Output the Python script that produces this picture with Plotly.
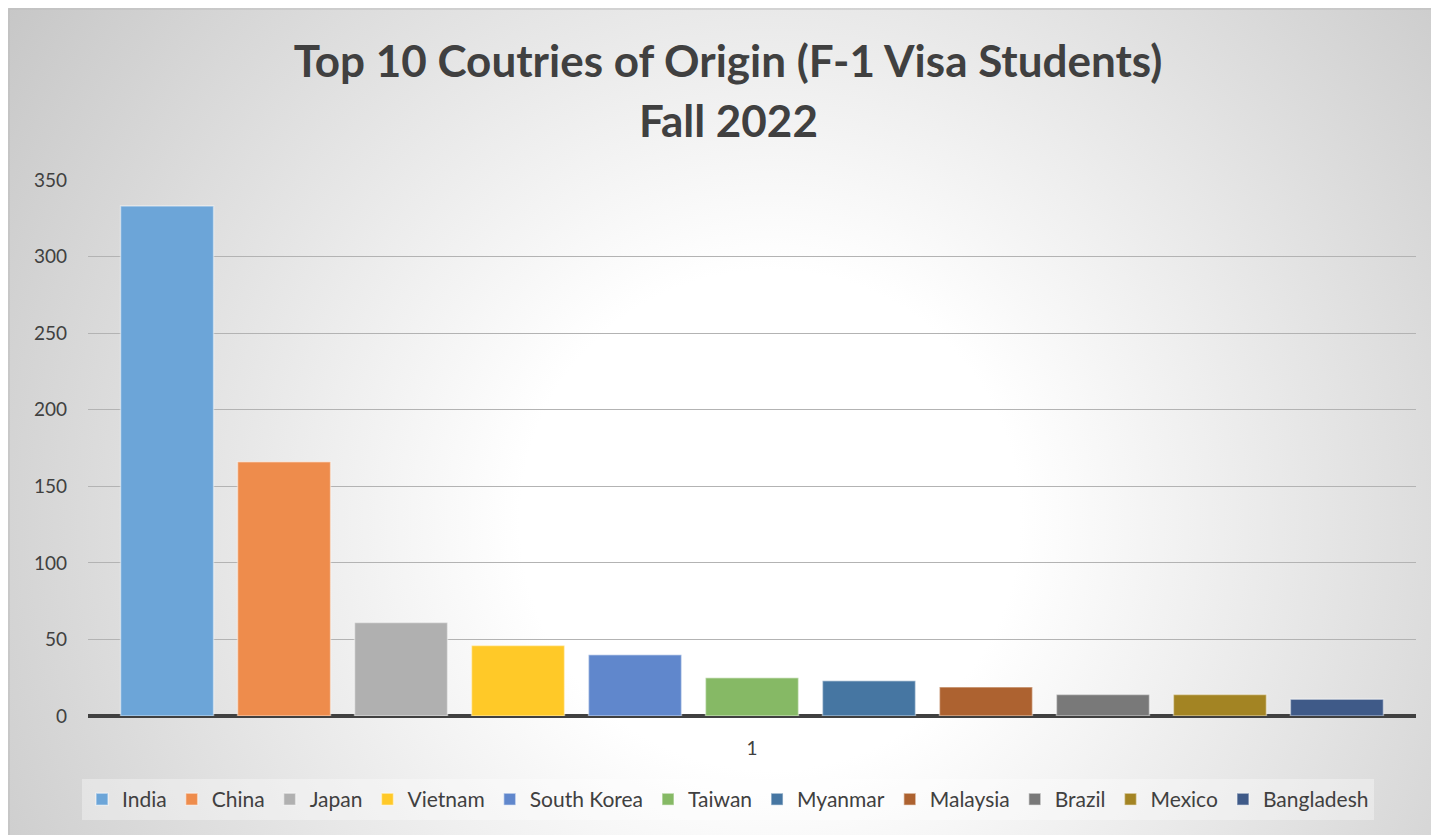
import base64
import plotly.graph_objects as go

# ---- data ----
countries = ["India", "China", "Japan", "Vietnam", "South Korea", "Taiwan",
             "Myanmar", "Malaysia", "Brazil", "Mexico", "Bangladesh"]
students = [333, 166, 61, 46, 40, 25, 23, 19, 14, 14, 11]
category = ["1"]
colors = ["#6CA5D8", "#EE8C4C", "#B0B0B0", "#FFC928", "#6087CC", "#86B965",
          "#4676A2", "#AD6230", "#797979", "#A38423", "#3F5A88"]
title_line1 = "Top 10 Coutries of Origin (F-1 Visa Students)"
title_line2 = "Fall 2022"

# ---- geometry (page coords; body margin removed, white band drawn in figure) ----
W, H = 1431, 835
L, T = 88, 180
plot_bottom, plot_right = 716, 1416
R = W - plot_right
B = H - plot_bottom
pw, ph = plot_right - L, plot_bottom - T
CH0 = 8  # chart area starts here (white band before it)

def px(x):
    return (x - L) / pw

def py(y):
    return (plot_bottom - y) / ph

fig = go.Figure()
for name, val, col in zip(countries, students, colors):
    fig.add_trace(go.Bar(
        x=category, y=[val], name=name,
        marker=dict(color=col, line=dict(color="rgba(255,255,255,0.45)", width=1.5)),
    ))

# radial gradient background (Excel style)
gw, gh = W - CH0, H - CH0
cx, cy = 770 - CH0, 520 - CH0
svg = f'''<svg xmlns="http://www.w3.org/2000/svg" width="{gw}" height="{gh}" viewBox="0 0 {gw} {gh}" preserveAspectRatio="none">
<defs><radialGradient id="g" gradientUnits="userSpaceOnUse" cx="{cx}" cy="{cy}" r="1000">
<stop offset="0" stop-color="#ffffff"/><stop offset="0.25" stop-color="#ffffff"/>
<stop offset="1" stop-color="#c0c0c0"/></radialGradient></defs>
<rect x="0" y="0" width="{gw}" height="{gh}" fill="url(#g)"/></svg>'''
src = "data:image/svg+xml;base64," + base64.b64encode(svg.encode()).decode()

fig.add_layout_image(dict(
    source=src, xref="paper", yref="paper",
    x=px(CH0), y=py(CH0), sizex=gw / pw, sizey=gh / ph,
    xanchor="left", yanchor="top", sizing="stretch", layer="below",
))
# top and left border of chart area
bx = CH0 + 1
fig.add_shape(type="line", xref="paper", yref="paper",
              x0=px(bx), x1=px(W), y0=py(bx), y1=py(bx),
              line=dict(color="#bdbdbd", width=1))
fig.add_shape(type="line", xref="paper", yref="paper",
              x0=px(bx), x1=px(bx), y0=py(bx), y1=py(H),
              line=dict(color="#bdbdbd", width=1))

title_x = 728
fig.add_annotation(text="<b>" + title_line2 + "</b>", xref="paper", yref="paper",
                   x=px(title_x), y=py(120), xanchor="center", yanchor="middle",
                   showarrow=False, font=dict(family="Lato", size=44, color="#404040"))

fig.update_layout(
    width=W, height=H,
    margin=dict(l=L, r=R, t=T, b=B),
    paper_bgcolor="white", plot_bgcolor="rgba(0,0,0,0)",
    font=dict(family="Lato", color="#404040"),
    title=dict(text="<b>" + title_line1 + "</b>", x=title_x / W, xanchor="center",
               y=1 - 62 / H, yanchor="middle", yref="container",
               font=dict(family="Lato", size=44, color="#404040")),
    barmode="group", bargap=0.031, bargroupgap=0.205,
    showlegend=True,
    legend=dict(orientation="h", x=px(title_x), xanchor="center",
                y=py(779), yanchor="top",
                bgcolor="rgba(255,255,255,0.35)", font=dict(size=21, color="#404040"),
                traceorder="normal", itemwidth=30),
    xaxis=dict(type="category", showgrid=False, showline=False, ticks="",
               tickfont=dict(size=19, color="#404040"), ticklabelstandoff=19),
    yaxis=dict(range=[0, 350], dtick=50, showgrid=True, gridcolor="#b3b3b3", gridwidth=1,
               zeroline=True, zerolinecolor="#404040", zerolinewidth=4, showline=False,
               ticks="", tickfont=dict(size=19, color="#404040"), ticklabelstandoff=20),
)

fig.write_html(
    "out.html",
    config={"displayModeBar": False},
    post_script=("document.body.style.margin='0';"
                 "document.documentElement.style.overflow='hidden';"
                 "document.body.style.overflow='hidden';"),
)
